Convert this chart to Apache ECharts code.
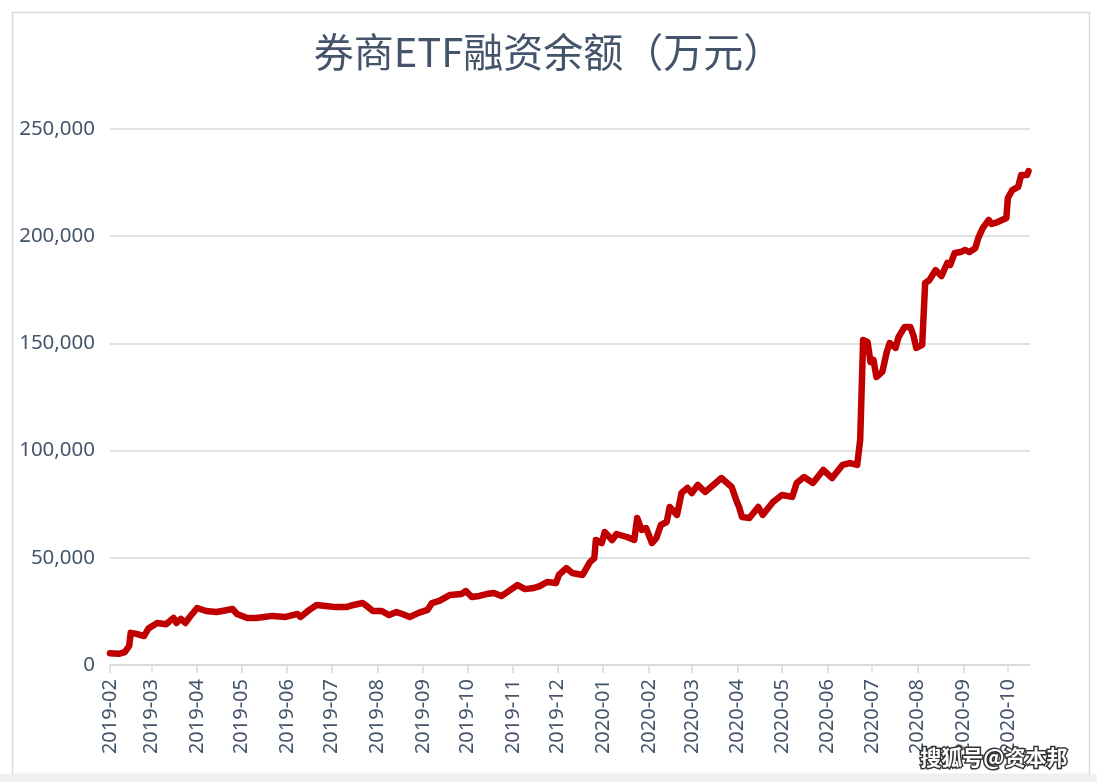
<!DOCTYPE html>
<html>
<head>
<meta charset="utf-8">
<script src="https://cdn.jsdelivr.net/npm/echarts@6/dist/echarts.min.js"></script>
<style>
html,body{margin:0;padding:0;background:#fff;}
#chart{width:1097px;height:782px;}
</style>
</head>
<body>
<div id="chart"></div>
<script>
const titleText = '券商ETF融资余额（万元）';
const tickLabels = ['2019-02','2019-03','2019-04','2019-05','2019-06','2019-07','2019-08','2019-09','2019-10','2019-11','2019-12','2020-01','2020-02','2020-03','2020-04','2020-05','2020-06','2020-07','2020-08','2020-09','2020-10'];
const dates = ['2019-02-01','2019-02-07','2019-02-11','2019-02-14','2019-02-15','2019-02-19','2019-02-24','2019-02-27',
'2019-03-05','2019-03-11','2019-03-16','2019-03-18','2019-03-21','2019-03-24','2019-03-27',
'2019-04-01','2019-04-07','2019-04-14','2019-04-18','2019-04-25','2019-04-28',
'2019-05-05','2019-05-11','2019-05-22','2019-05-31',
'2019-06-08','2019-06-10','2019-06-16','2019-06-21','2019-06-27',
'2019-07-04','2019-07-11','2019-07-16','2019-07-22','2019-07-24','2019-07-29',
'2019-08-04','2019-08-09','2019-08-14','2019-08-18','2019-08-23','2019-08-29',
'2019-09-04','2019-09-07','2019-09-12','2019-09-19','2019-09-27','2019-09-30',
'2019-10-04','2019-10-09','2019-10-14','2019-10-19','2019-10-24','2019-10-28',
'2019-11-04','2019-11-09','2019-11-15','2019-11-19','2019-11-24','2019-11-30',
'2019-12-02','2019-12-07','2019-12-11','2019-12-18','2019-12-23','2019-12-26','2019-12-27','2019-12-31',
'2020-01-02','2020-01-07','2020-01-10','2020-01-17','2020-01-22','2020-01-24','2020-01-27','2020-01-30',
'2020-02-03','2020-02-06','2020-02-09','2020-02-13','2020-02-15','2020-02-20','2020-02-23','2020-02-27',
'2020-03-01','2020-03-05','2020-03-10','2020-03-14','2020-03-21','2020-03-28','2020-03-31',
'2020-04-02','2020-04-04','2020-04-09','2020-04-15','2020-04-18','2020-04-25',
'2020-05-01','2020-05-08','2020-05-11','2020-05-16','2020-05-22','2020-05-29',
'2020-06-04','2020-06-11','2020-06-16','2020-06-21','2020-06-23','2020-06-25','2020-06-28','2020-06-30',
'2020-07-02','2020-07-04','2020-07-08','2020-07-11','2020-07-13','2020-07-17','2020-07-19','2020-07-23','2020-07-27','2020-07-29','2020-07-31',
'2020-08-01','2020-08-04','2020-08-06','2020-08-09','2020-08-13','2020-08-17','2020-08-21','2020-08-23','2020-08-26','2020-08-30',
'2020-09-02','2020-09-05','2020-09-09','2020-09-11','2020-09-14','2020-09-18','2020-09-20','2020-09-24','2020-09-30',
'2020-10-01','2020-10-04','2020-10-08','2020-10-10','2020-10-14','2020-10-15'];
const balances = [5500,5200,6000,8900,15000,14500,13500,17000,
19600,19000,22000,19600,21500,19600,22400,
26600,25200,24700,25200,26100,23800,
21900,21900,22900,22400,
23800,22400,25700,28000,27500,
27000,27000,28000,28900,28000,25200,
25200,23300,24700,23800,22400,24300,
25700,28900,29900,32600,33100,34500,
31700,32200,33100,33600,32200,34000,
37300,35400,35900,36800,38700,38200,
42000,45200,42900,42000,48000,49900,58300,56900,
62000,58300,61100,59700,58300,68600,63000,63900,
56900,59200,65300,66700,73700,70000,80200,82600,
80200,84000,80700,83000,87200,83000,77000,
73700,69000,68600,73700,70000,76000,
79300,78400,84900,87700,84900,91000,
87200,93300,94200,93300,105000,151600,150700,141300,
142300,134300,136700,146000,150200,147900,153000,157600,157600,153900,147900,
148300,149300,178200,179600,184200,181400,187500,186600,192200,192600,
193600,192600,194500,199200,203800,207600,205700,206600,208500,
217800,221500,223000,228500,228500,230400];

// dates -> UTC timestamps (days), used on a value axis
const toTs = s => Date.UTC(+s.slice(0, 4), +s.slice(5, 7) - 1, s.length > 7 ? +s.slice(8, 10) : 1);
const monthTicks = tickLabels.map(toTs);
const labelByTs = {};
tickLabels.forEach((m, i) => { labelByTs[monthTicks[i]] = m; });
const seriesData = dates.map((d, i) => [toTs(d), balances[i]]);
const labelColor = '#44546A';

const chart = echarts.init(document.getElementById('chart'), null, {renderer: 'canvas'});
chart.setOption({
  animation: false,
  backgroundColor: '#ffffff',
  title: {
    text: titleText,
    left: 'center',
    top: 27,
    textStyle: {
      color: '#44546A',
      fontSize: 40,
      fontWeight: 'normal',
      fontFamily: '"Noto Sans CJK SC", "Noto Sans", sans-serif'
    }
  },
  grid: {left: 110, right: 67, top: 129, bottom: 117, containLabel: false},
  xAxis: {
    type: 'value',
    min: toTs('2019-02-01'),
    max: toTs('2020-10-16'),
    scale: true,
    axisLine: {show: true, onZero: false, lineStyle: {color: '#D9D9D9', width: 1.5}},
    axisTick: {show: true, length: 8, lineStyle: {color: '#D9D9D9', width: 1.5}, customValues: monthTicks},
    splitLine: {show: false},
    axisLabel: {
      customValues: monthTicks,
      rotate: 90,
      margin: 14,
      color: labelColor,
      fontSize: 20,
      fontFamily: '"Noto Sans", sans-serif',
      formatter: v => labelByTs[v] || ''
    }
  },
  yAxis: {
    type: 'value',
    min: 0,
    max: 250000,
    interval: 50000,
    axisLine: {show: false},
    axisTick: {show: false},
    splitLine: {lineStyle: {color: '#D9D9D9', width: 1.5}},
    axisLabel: {
      margin: 15,
      color: labelColor,
      fontSize: 20.5,
      fontFamily: '"Noto Sans", sans-serif',
      formatter: v => v.toLocaleString('en-US')
    }
  },
  series: [{
    type: 'line',
    data: seriesData,
    showSymbol: false,
    symbol: 'none',
    smooth: false,
    lineStyle: {color: '#C00000', width: 6.5, cap: 'round', join: 'round'},
    z: 5
  }],
  graphic: [
    {type: 'rect', left: 10, top: 10, shape: {width: 1077, height: 762}, style: {fill: 'none', stroke: '#D9D9D9', lineWidth: 1.5}, silent: true},
    {type: 'rect', left: 0, top: 774, shape: {width: 1097, height: 8}, style: {fill: '#EFEFEF'}, silent: true},
    {type: 'text', right: 28, top: 745, style: {text: '搜狐号@资本邦', fill: '#ffffff', stroke: '#333333', lineWidth: 3, fontSize: 21, fontWeight: 'bold', fontFamily: '"Noto Sans CJK SC", sans-serif'}, z: 100}
  ]
});
</script>
</body>
</html>
